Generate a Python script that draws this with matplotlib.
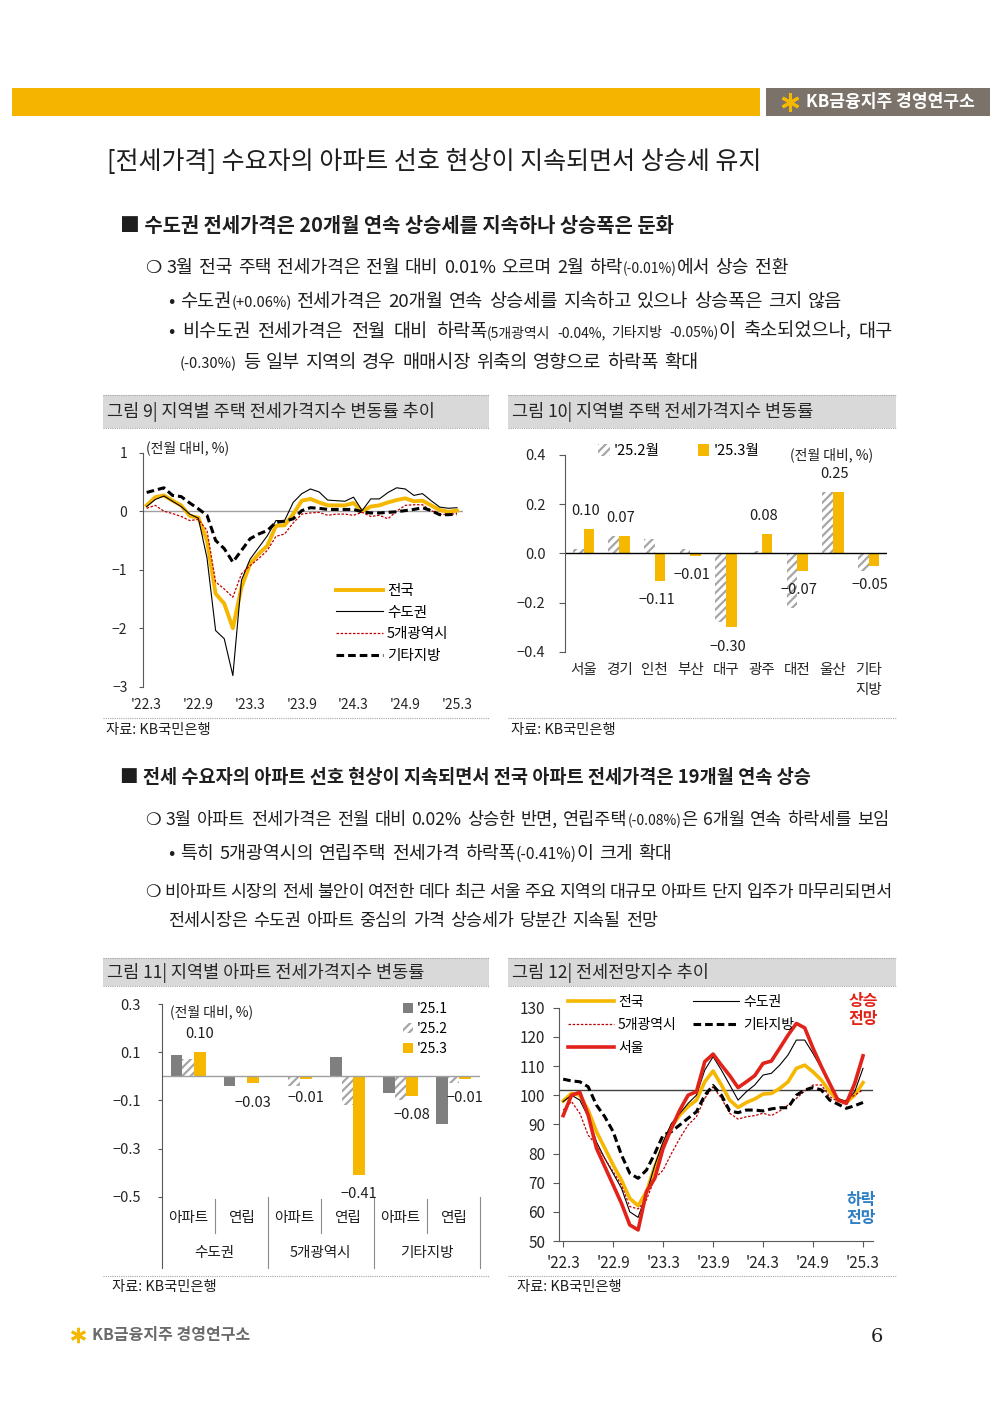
import numpy as np
import matplotlib.pyplot as plt
from matplotlib.patches import Rectangle
from matplotlib.lines import Line2D

plt.rcParams['font.family'] = ['Noto Sans CJK KR', 'DejaVu Sans']
plt.rcParams['hatch.linewidth'] = 1.6

# ---------------- data ----------------
tick_months = ["'22.3", "'22.9", "'23.3", "'23.9", "'24.3", "'24.9", "'25.3"]

# fig 9: monthly change of jeonse price index (%), '22.3 ~ '25.3
nat9 = [0.10, 0.24, 0.27, 0.18, 0.10, -0.08, -0.11, -0.50, -1.41, -1.58, -2.00, -1.30, -0.90,
        -0.73, -0.59, -0.25, -0.24, -0.05, 0.18, 0.21, 0.15, 0.10, 0.10, 0.10, 0.14, 0.00,
        0.08, 0.10, 0.15, 0.19, 0.22, 0.17, 0.18, 0.10, 0.02, -0.01, 0.01]
cap9 = [0.08, 0.20, 0.26, 0.17, 0.08, -0.05, -0.12, -0.80, -2.04, -2.18, -2.81, -1.18, -0.82,
        -0.62, -0.42, -0.16, -0.16, 0.15, 0.30, 0.38, 0.33, 0.19, 0.18, 0.17, 0.24, 0.01,
        0.21, 0.21, 0.32, 0.40, 0.38, 0.27, 0.30, 0.18, 0.07, 0.05, 0.06]
metro9 = [0.05, 0.10, 0.00, -0.04, -0.09, -0.16, -0.14, -0.33, -1.21, -1.33, -1.47, -1.07, -0.93,
          -0.81, -0.67, -0.43, -0.39, -0.20, -0.05, -0.03, -0.02, -0.07, -0.05, -0.05, -0.07, -0.02,
          -0.09, -0.07, -0.13, 0.00, 0.10, 0.11, 0.11, 0.01, -0.05, -0.06, -0.04]
other9 = [0.32, 0.36, 0.40, 0.27, 0.25, 0.14, 0.04, -0.07, -0.50, -0.64, -0.87, -0.67, -0.47,
          -0.39, -0.33, -0.19, -0.17, -0.13, 0.01, 0.06, 0.05, 0.03, 0.03, 0.03, 0.03, -0.01,
          -0.03, -0.03, -0.02, -0.01, 0.01, 0.03, 0.06, 0.01, -0.06, -0.06, -0.05]

# fig 10: by region
regions10 = ['서울', '경기', '인천', '부산', '대구', '광주', '대전', '울산', '기타\n지방']
feb10 = [0.02, 0.07, 0.06, 0.02, -0.28, 0.01, -0.22, 0.25, -0.07]
mar10 = [0.10, 0.07, -0.11, -0.01, -0.30, 0.08, -0.07, 0.25, -0.05]

# fig 11: apartment / row house by area
types11 = ['아파트', '연립', '아파트', '연립', '아파트', '연립']
areas11 = ['수도권', '5개광역시', '기타지방']
jan11 = [0.09, -0.04, 0.00, 0.08, -0.07, -0.20]
feb11 = [0.07, -0.005, -0.04, -0.12, -0.10, -0.03]
mar11 = [0.10, -0.03, -0.01, -0.41, -0.08, -0.01]

# fig 12: jeonse outlook index
nat12 = [98.0, 100.6, 100.0, 94.9, 87.5, 81.8, 76.1, 70.9, 64.6, 62.1, 66.9, 75.5, 82.9, 89.2,
         93.2, 96.1, 98.3, 104.6, 108.3, 103.5, 98.3, 95.8, 97.5, 98.7, 100.4, 100.6, 102.3,
         104.6, 109.2, 110.3, 108.0, 105.2, 101.2, 98.3, 97.5, 100.0, 104.3]
cap12 = [97.8, 100.0, 98.3, 92.6, 84.0, 78.3, 73.2, 68.1, 60.0, 58.1, 66.3, 76.0, 84.0, 90.3,
         93.7, 97.2, 100.0, 108.6, 113.2, 108.6, 103.5, 98.3, 101.2, 103.5, 106.9, 107.5, 110.3,
         113.8, 118.9, 118.9, 114.3, 109.2, 103.5, 98.9, 97.8, 101.2, 109.2]
seoul12 = [93.0, 100.0, 101.0, 93.2, 81.8, 75.5, 69.2, 62.9, 55.5, 53.8, 66.9, 71.5, 81.8, 88.6,
           94.9, 100.0, 101.2, 111.5, 114.1, 110.3, 106.7, 102.6, 104.6, 106.7, 110.9, 111.7,
           116.1, 120.6, 124.6, 123.1, 116.1, 109.8, 104.0, 98.3, 97.2, 104.0, 113.5]
metro12 = [94.9, 97.8, 93.8, 86.3, 82.9, 78.3, 73.8, 69.2, 61.8, 61.0, 64.1, 71.5, 74.3, 80.0,
           85.2, 89.8, 92.6, 98.9, 102.9, 98.9, 93.8, 91.8, 92.6, 93.0, 93.8, 93.0, 94.6, 96.6,
           98.9, 101.4, 103.5, 103.5, 99.5, 97.8, 98.3, 100.0, 101.8]
other12 = [105.5, 104.9, 104.6, 102.9, 96.6, 92.6, 87.5, 79.5, 73.2, 71.5, 74.3, 80.0, 86.3,
           87.5, 89.8, 92.1, 94.3, 100.0, 103.3, 100.0, 94.6, 94.0, 94.9, 94.9, 94.6, 95.3, 95.7,
           95.7, 100.0, 101.8, 102.6, 101.8, 98.3, 96.9, 95.5, 96.4, 97.5]
ref_line12 = 101.8

# ---------------- style ----------------
YEL = '#F5B700'
GRY = '#A6A6A6'
DGR = '#7F7F7F'
RED = '#C00000'
SRED = '#E2231A'
TXT = '#1E1E1E'
AXC = '#595959'

W, H = 1000, 1414
fig = plt.figure(figsize=(10, 14.14), dpi=100)
rend = fig.canvas.get_renderer()


def fx(x):
    return x / W


def fy(y):
    return 1 - y / H


def add_ax(l, t, r, b):
    return fig.add_axes([l / W, 1 - b / H, (r - l) / W, (b - t) / H])


def txt(x, y, s, size, **kw):
    kw.setdefault('color', TXT)
    kw.setdefault('va', 'center')
    return fig.text(fx(x), fy(y), s, fontsize=size, **kw)


def hline(x0, x1, y, **kw):
    fig.add_artist(Line2D([fx(x0), fx(x1)], [fy(y), fy(y)], transform=fig.transFigure, **kw))


def rect(x0, y0, x1, y1, color):
    fig.add_artist(Rectangle((fx(x0), fy(y1)), (x1 - x0) / W, (y1 - y0) / H,
                             transform=fig.transFigure, facecolor=color, lw=0))


def runs(x, yb, parts, justify=None):
    # word by word on one baseline, optional justification to a right edge
    placed = []
    nsp = 0
    for s, size in parts:
        sp = size * 0.3 * 100 / 72
        for k, tok in enumerate(s.split(' ')):
            if k > 0:
                x += sp
                nsp += 1
            if not tok:
                continue
            t = fig.text(fx(x), fy(yb), tok, fontsize=size, va='baseline', color=TXT)
            placed.append((t, x, nsp))
            x += t.get_window_extent(rend).width
    if justify and nsp:
        extra = (justify - x) / nsp
        for t, x0, n in placed:
            t.set_x(fx(x0 + n * extra))


def caption(x0, x1, y0, y1, s):
    rect(x0, y0, x1, y1, '#D9D9D9')
    hline(x0, x1, y0, color=GRY, lw=0.8, ls=(0, (1, 1)))
    hline(x0, x1, y1, color=GRY, lw=0.8, ls=(0, (1, 1)))
    txt(x0 + 4, (y0 + y1) / 2 + 1, s, 12.6, color='#262626')


def source(x0, x1, yline, xt, yt):
    hline(x0, x1, yline, color=GRY, lw=0.8, ls=(0, (1, 1)))
    txt(xt, yt, '자료: KB국민은행', 10.3)


def fmt(v):
    return f'{v:.2f}'.replace('-', '\u2212')


# ---------------- page header / text ----------------
rect(12, 88, 760, 116, '#F4B400')
rect(766, 88, 990, 116, '#7B736A')
fig.add_artist(Line2D([fx(790)], [fy(102)], marker=(6, 2, 0), ms=13, mew=2.2, color=YEL,
                      transform=fig.transFigure))
txt(806, 102, 'KB금융지주 경영연구소', 12.3, color='white', weight='bold')

txt(107, 162, '[전세가격] 수요자의 아파트 선호 현상이 지속되면서 상승세 유지', 18)
txt(120, 226, '■ 수도권 전세가격은 20개월 연속 상승세를 지속하나 상승폭은 둔화', 14.3, weight='bold')

SM = 10
runs(145, 273, [('❍ 3월 전국 주택 전세가격은 전월 대비 0.01% 오르며 2월 하락', 13.1),
                ('(-0.01%)', SM), ('에서 상승 전환', 13.1)])
runs(168, 307, [('• 수도권', 13.4), ('(+0.06%)', SM + 0.5),
                (' 전세가격은 20개월 연속 상승세를 지속하고 있으나 상승폭은 크지 않음', 13.4)])
runs(168, 337, [('• 비수도권 전세가격은 전월 대비 하락폭', 13.4),
                ('(5개광역시 -0.04%, 기타지방 -0.05%)', SM), ('이 축소되었으나, 대구', 13.4)],
     justify=893)
runs(180, 368, [('(-0.30%)', SM + 0.5), (' 등 일부 지역의 경우 매매시장 위축의 영향으로 하락폭 확대', 13.4)])

txt(120, 777, '■ 전세 수요자의 아파트 선호 현상이 지속되면서 전국 아파트 전세가격은 19개월 연속 상승',
    13.4, weight='bold')
runs(145, 825, [('❍ 3월 아파트 전세가격은 전월 대비 0.02% 상승한 반면, 연립주택', 12.6),
                ('(-0.08%)', SM), ('은 6개월 연속 하락세를 보임', 12.6)])
runs(168, 859, [('• 특히 5개광역시의 연립주택 전세가격 하락폭', 13.2), ('(-0.41%)', 11.3),
                ('이 크게 확대', 13.2)])
runs(145, 897, [('❍ 비아파트 시장의 전세 불안이 여전한 데다 최근 서울 주요 지역의 대규모 아파트 단지 입주가 마무리되면서', 12.4)],
     justify=893)
runs(168, 926, [('전세시장은 수도권 아파트 중심의 가격 상승세가 당분간 지속될 전망', 12.5)])

caption(103, 489, 395, 428, '그림 9| 지역별 주택 전세가격지수 변동률 추이')
caption(508, 896, 395, 428, '그림 10| 지역별 주택 전세가격지수 변동률')
caption(103, 489, 958, 986, '그림 11| 지역별 아파트 전세가격지수 변동률')
caption(508, 896, 958, 986, '그림 12| 전세전망지수 추이')

source(103, 489, 718, 106, 730)
source(508, 896, 718, 511, 730)
source(103, 489, 1276, 112, 1287)
source(508, 896, 1276, 517, 1287)

# footer
fig.add_artist(Line2D([fx(78)], [fy(1335)], marker=(6, 2, 0), ms=11, mew=2, color=YEL,
                      transform=fig.transFigure))
txt(92, 1335, 'KB금융지주 경영연구소', 11.5, color='#6B6B6B', weight='bold')
txt(877, 1337, '6', 14, family='DejaVu Serif', ha='center')


def style_axes(ax, ylab_size=10):
    for s in ['top', 'right', 'bottom']:
        ax.spines[s].set_visible(False)
    ax.spines['left'].set_color(AXC)
    ax.spines['left'].set_linewidth(0.8)
    ax.tick_params(axis='y', colors=AXC, labelcolor='#262626', labelsize=ylab_size,
                   length=3, width=0.8)
    ax.tick_params(axis='x', length=0, labelcolor='#262626')
    ax.patch.set_alpha(0)


# ---------------- fig 9 ----------------
x9 = np.arange(len(nat9))
ax9 = add_ax(142.7, 452.7, 463, 686.7)
style_axes(ax9)
ax9.axhline(0, color='#A0A0A0', lw=1)
ax9.plot(x9, nat9, color=YEL, lw=2.8, label='전국')
ax9.plot(x9, cap9, color='black', lw=0.8, label='수도권')
ax9.plot(x9, metro9, color=RED, lw=0.9, ls=(0, (2, 1.3)), label='5개광역시')
ax9.plot(x9, other9, color='black', lw=2.2, ls=(0, (2.5, 1.3)), label='기타지방')
ax9.set_xlim(-0.46, 36.7)
ax9.set_ylim(-3, 1)
ax9.set_yticks([1, 0, -1, -2, -3])
ax9.set_xticks(np.arange(0, 37, 6))
ax9.set_xticklabels(tick_months, fontsize=10)
ax9.tick_params(axis='x', pad=8)
ax9.tick_params(axis='y', pad=8)
txt(146, 448, '(전월 대비, %)', 10)
ax9.legend(loc='upper left', bbox_to_anchor=(fx(336), fy(584)), bbox_transform=fig.transFigure,
           frameon=False, fontsize=10.5, handlelength=3.2, handletextpad=0.3, labelspacing=0.52,
           borderpad=0, borderaxespad=0)

# ---------------- fig 10 ----------------
x10 = np.arange(len(regions10))
bw = 0.3
ax10 = add_ax(565, 455, 886.7, 652)
style_axes(ax10, 10.5)
ax10.axhline(0, color='black', lw=1)
ax10.bar(x10 - bw / 2, feb10, bw, color='white', edgecolor=GRY, hatch='////', lw=0,
         label="'25.2월")
ax10.bar(x10 + bw / 2, mar10, bw, color=YEL, lw=0, label="'25.3월")
for i, v in enumerate(mar10):
    ax10.annotate(fmt(v), (i + 0.05, v), xytext=(0, 13 if v >= 0 else -14),
                  textcoords='offset points', ha='center', va='center', fontsize=10.5, color=TXT)
ax10.set_xlim(-0.52, 8.51)
ax10.set_ylim(-0.4, 0.4)
yt10 = [0.4, 0.2, 0.0, -0.2, -0.4]
ax10.set_yticks(yt10)
ax10.set_yticklabels([f'{v:.1f}'.replace('-', '\u2212') for v in yt10])
ax10.tick_params(axis='y', pad=10, length=4)
ax10.set_xticks(x10)
ax10.set_xticklabels(regions10, fontsize=10.5, va='top')
for lab in ax10.get_xticklabels():
    lab.set_linespacing(1.55)
ax10.tick_params(axis='x', pad=8)
ax10.legend(loc='upper left', bbox_to_anchor=(fx(598), fy(444)), bbox_transform=fig.transFigure,
            ncol=2, frameon=False, fontsize=10.5, handlelength=0.8, handleheight=0.8,
            handletextpad=0.3, columnspacing=2.6, borderpad=0, borderaxespad=0)
txt(790, 455, '(전월 대비, %)', 10)

# ---------------- fig 11 ----------------
x11 = np.arange(len(types11))
bw = 0.22
ax11 = add_ax(161.7, 1004, 480, 1196.7)
style_axes(ax11, 10.5)
ax11.axhline(0, color='#A0A0A0', lw=1)
ax11.bar(x11 - bw, jan11, bw, color=DGR, lw=0, label="'25.1")
ax11.bar(x11, feb11, bw, color='white', edgecolor=GRY, hatch='////', lw=0, label="'25.2")
ax11.bar(x11 + bw, mar11, bw, color=YEL, lw=0, label="'25.3")
for i, v in enumerate(mar11):
    ax11.annotate(fmt(v), (i + bw, v), xytext=(0, 13 if v >= 0 else -14),
                  textcoords='offset points', ha='center', va='center', fontsize=10.5, color=TXT)
ax11.set_xlim(-0.5, 5.5)
ax11.set_ylim(-0.5, 0.3)
yt11 = [0.3, 0.1, -0.1, -0.3, -0.5]
ax11.set_yticks(yt11)
ax11.set_yticklabels([f'{v:.1f}'.replace('-', '\u2212') for v in yt11])
ax11.tick_params(axis='y', pad=12, length=3)
ax11.set_xticks([])
tr = ax11.get_xaxis_transform()
ax11.plot([-0.5, -0.5], [0, -0.37], transform=tr, clip_on=False, color=AXC, lw=0.8)
for xs in [1.5, 3.5, 5.5]:
    ax11.plot([xs, xs], [0, -0.37], transform=tr, clip_on=False, color='#8C8C8C', lw=0.8)
for xs in [0.5, 2.5, 4.5]:
    ax11.plot([xs, xs], [-0.01, -0.19], transform=tr, clip_on=False, color='#8C8C8C', lw=0.8)
for i, s in enumerate(types11):
    ax11.text(i, -0.11, s, transform=tr, ha='center', va='center', fontsize=10.5, color=TXT)
for g, s in enumerate(areas11):
    ax11.text(2 * g + 0.5, -0.29, s, transform=tr, ha='center', va='center', fontsize=10.5,
              color=TXT)
ax11.legend(loc='upper left', bbox_to_anchor=(fx(403), fy(1002)), bbox_transform=fig.transFigure,
            frameon=False, fontsize=10, handlelength=0.7, handleheight=0.7, handletextpad=0.3,
            labelspacing=0.42, borderpad=0, borderaxespad=0)
txt(170, 1012, '(전월 대비, %)', 10)

# ---------------- fig 12 ----------------
x12 = np.arange(len(nat12))
ax12 = add_ax(559, 1007.7, 873, 1241)
style_axes(ax12, 11)
ax12.spines['bottom'].set_visible(True)
ax12.spines['bottom'].set_color(AXC)
ax12.spines['bottom'].set_linewidth(0.8)
ax12.axhline(ref_line12, color='#404040', lw=1)
l_nat, = ax12.plot(x12, nat12, color=YEL, lw=2.6, label='전국')
l_cap, = ax12.plot(x12, cap12, color='black', lw=0.8, label='수도권')
l_met, = ax12.plot(x12, metro12, color=RED, lw=0.9, ls=(0, (2, 1.3)), label='5개광역시')
l_oth, = ax12.plot(x12, other12, color='black', lw=2.2, ls=(0, (2.5, 1.3)), label='기타지방')
l_seo, = ax12.plot(x12, seoul12, color=SRED, lw=2.6, label='서울')
ax12.set_xlim(-0.5, 37.2)
ax12.set_ylim(50, 130)
ax12.set_yticks(np.arange(50, 131, 10))
ax12.tick_params(axis='y', pad=6, length=4)
ax12.set_xticks(np.arange(0, 37, 6))
ax12.set_xticklabels(tick_months, fontsize=11)
ax12.tick_params(axis='x', length=4, width=0.8, color=AXC, pad=6)
ax12.legend(handles=[l_nat, l_met, l_seo, l_cap, l_oth], ncol=2, loc='upper left',
            bbox_to_anchor=(fx(568), fy(995)), bbox_transform=fig.transFigure, frameon=False,
            fontsize=10, handlelength=3.3, handletextpad=0.3, columnspacing=1.2,
            labelspacing=0.65, borderpad=0, borderaxespad=0)
txt(863, 1010, '상승\n전망', 11.5, color=SRED, weight='bold', ha='center', linespacing=1.1)
txt(861, 1209, '하락\n전망', 11.5, color='#2E7EC2', weight='bold', ha='center', linespacing=1.1)

fig.savefig('out.png', dpi=100, facecolor='white')
